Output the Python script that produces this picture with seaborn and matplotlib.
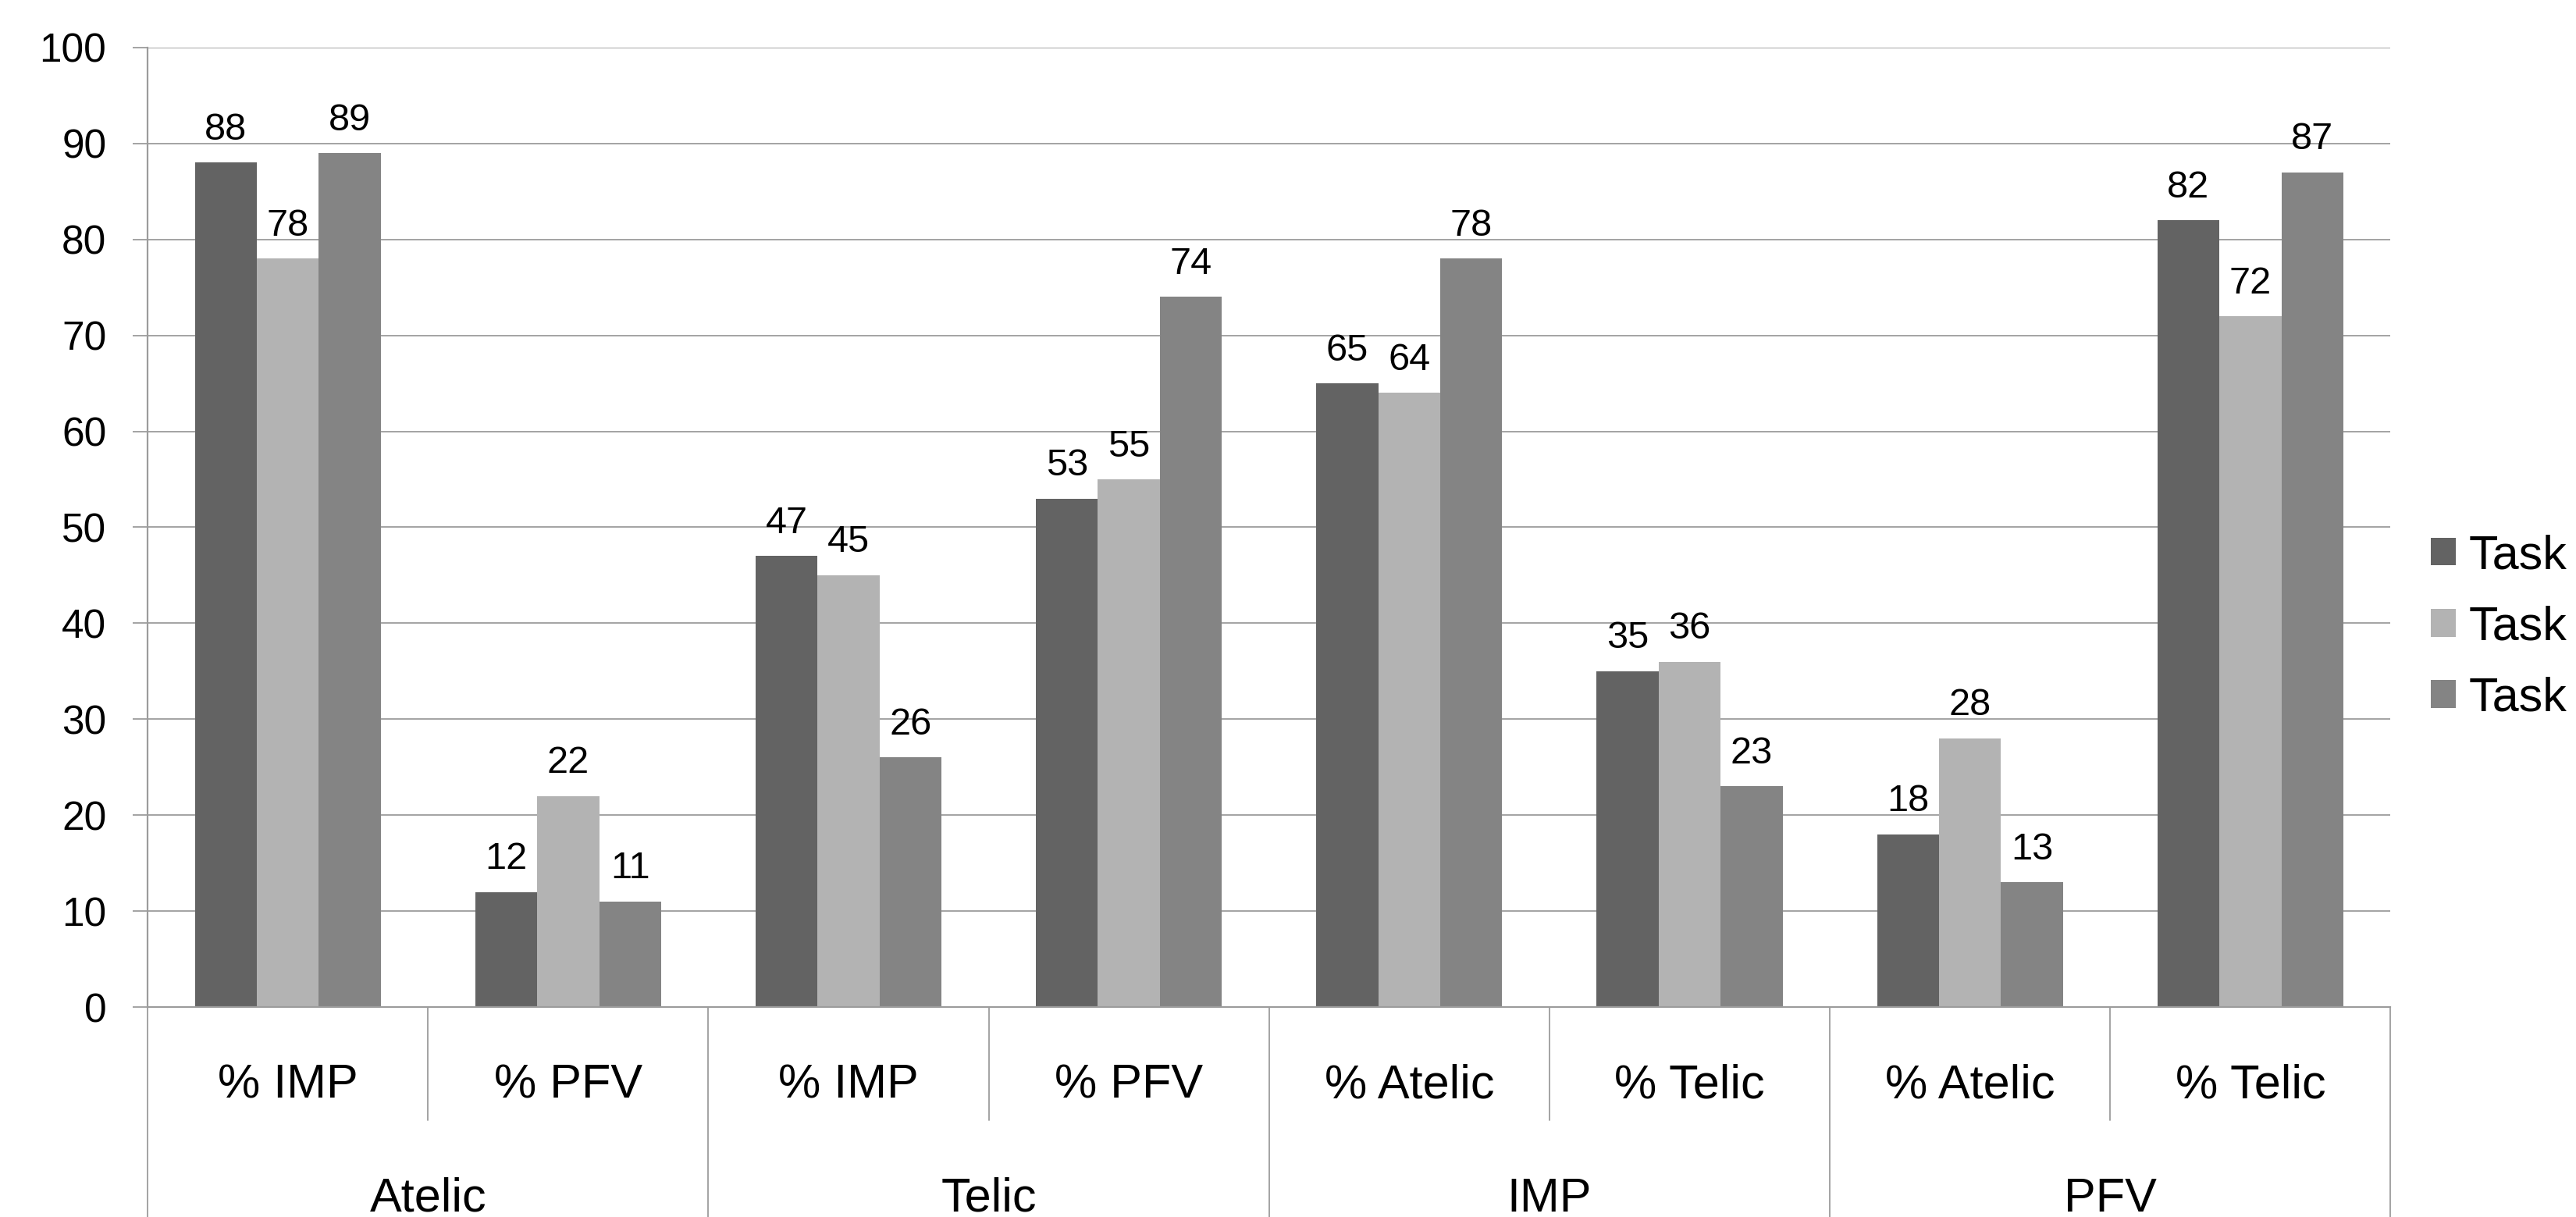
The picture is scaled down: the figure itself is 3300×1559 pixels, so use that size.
import pandas as pd
import numpy as np
import matplotlib
matplotlib.use("Agg")
import matplotlib.pyplot as plt
import matplotlib.transforms as mtransforms
from matplotlib.patches import Patch
import seaborn as sns

# chart data
groups = ["Atelic", "Telic", "IMP", "PFV"]
sub_labels = ["% IMP", "% PFV", "% IMP", "% PFV", "% Atelic", "% Telic", "% Atelic", "% Telic"]
series_names = ["Task", "Task", "Task"]
task_a = [88, 12, 47, 53, 65, 35, 18, 82]
task_b = [78, 22, 45, 55, 64, 36, 28, 72]
task_c = [89, 11, 26, 74, 78, 23, 13, 87]
colors = ["#636363", "#b3b3b3", "#848484"]
yticks = list(range(0, 101, 10))

GRID = "#9c9c9c"

sns.set_style("white")
plt.rcParams["font.family"] = ["Liberation Sans", "DejaVu Sans"]
plt.rcParams["text.color"] = "black"
plt.rcParams["ytick.labelcolor"] = "black"

# long format table, one row per bar; x keys must be unique
keys = [f"{i}" for i in range(len(sub_labels))]
rows = []
for s, vals in enumerate([task_a, task_b, task_c]):
    for k, v in zip(keys, vals):
        rows.append({"cond": k, "series": f"s{s}", "value": v})
df = pd.DataFrame(rows)

fig = plt.figure(figsize=(33, 15.59), dpi=100)
ax = fig.add_axes([0.0573, 0.1725, 0.928 - 0.0573, 0.961 - 0.1725])

sns.barplot(data=df, x="cond", y="value", hue="series", order=keys,
            palette=colors, saturation=1, width=0.663, ax=ax,
            legend=False, linewidth=0, errorbar=None)

for cont in ax.containers:
    ax.bar_label(cont, fmt="%d", padding=14, fontsize=35, color="black")

ax.set_ylim(0, 100)
ax.set_xlim(-0.5, len(keys) - 0.5)
ax.set_yticks(yticks)
ax.tick_params(axis="y", labelsize=37, length=14, width=1.3, color=GRID,
               pad=24, direction="out", left=True, labelcolor="black")
ax.set_xticks([])
ax.set_xlabel("")
ax.set_ylabel("")
ax.yaxis.grid(True, color=GRID, linewidth=1.3)
ax.set_axisbelow(True)
for side in ["top", "right"]:
    ax.spines[side].set_visible(False)
for side in ["left", "bottom"]:
    ax.spines[side].set_color(GRID)
    ax.spines[side].set_linewidth(1.6)

# two-level category axis drawn under the plot
trans = mtransforms.blended_transform_factory(ax.transData, fig.transFigure)
axis_y = 0.1725
for i in range(len(keys) + 1):
    x = i - 0.5
    bottom = 0.0 if i % 2 == 0 else 0.0795
    ax.plot([x, x], [axis_y, bottom], transform=trans, color=GRID,
            linewidth=1.3, clip_on=False)
for i, lab in enumerate(sub_labels):
    ax.text(i, 0.0975, lab, transform=trans, ha="center", va="baseline",
            fontsize=44, color="black")
for g, lab in enumerate(groups):
    ax.text(2 * g + 0.5, 0.0045, lab, transform=trans, ha="center",
            va="baseline", fontsize=44, color="black")

handles = [Patch(facecolor=c, edgecolor="none") for c in colors]
fig.legend(handles, series_names, loc="center left",
           bbox_to_anchor=(0.9436, 0.4843), frameon=False, fontsize=44,
           handlelength=0.52, handleheight=0.52, handletextpad=0.28,
           labelspacing=0.56, borderpad=0, borderaxespad=0,
           labelcolor="black")

fig.savefig("out.png", dpi=100, facecolor="white")
